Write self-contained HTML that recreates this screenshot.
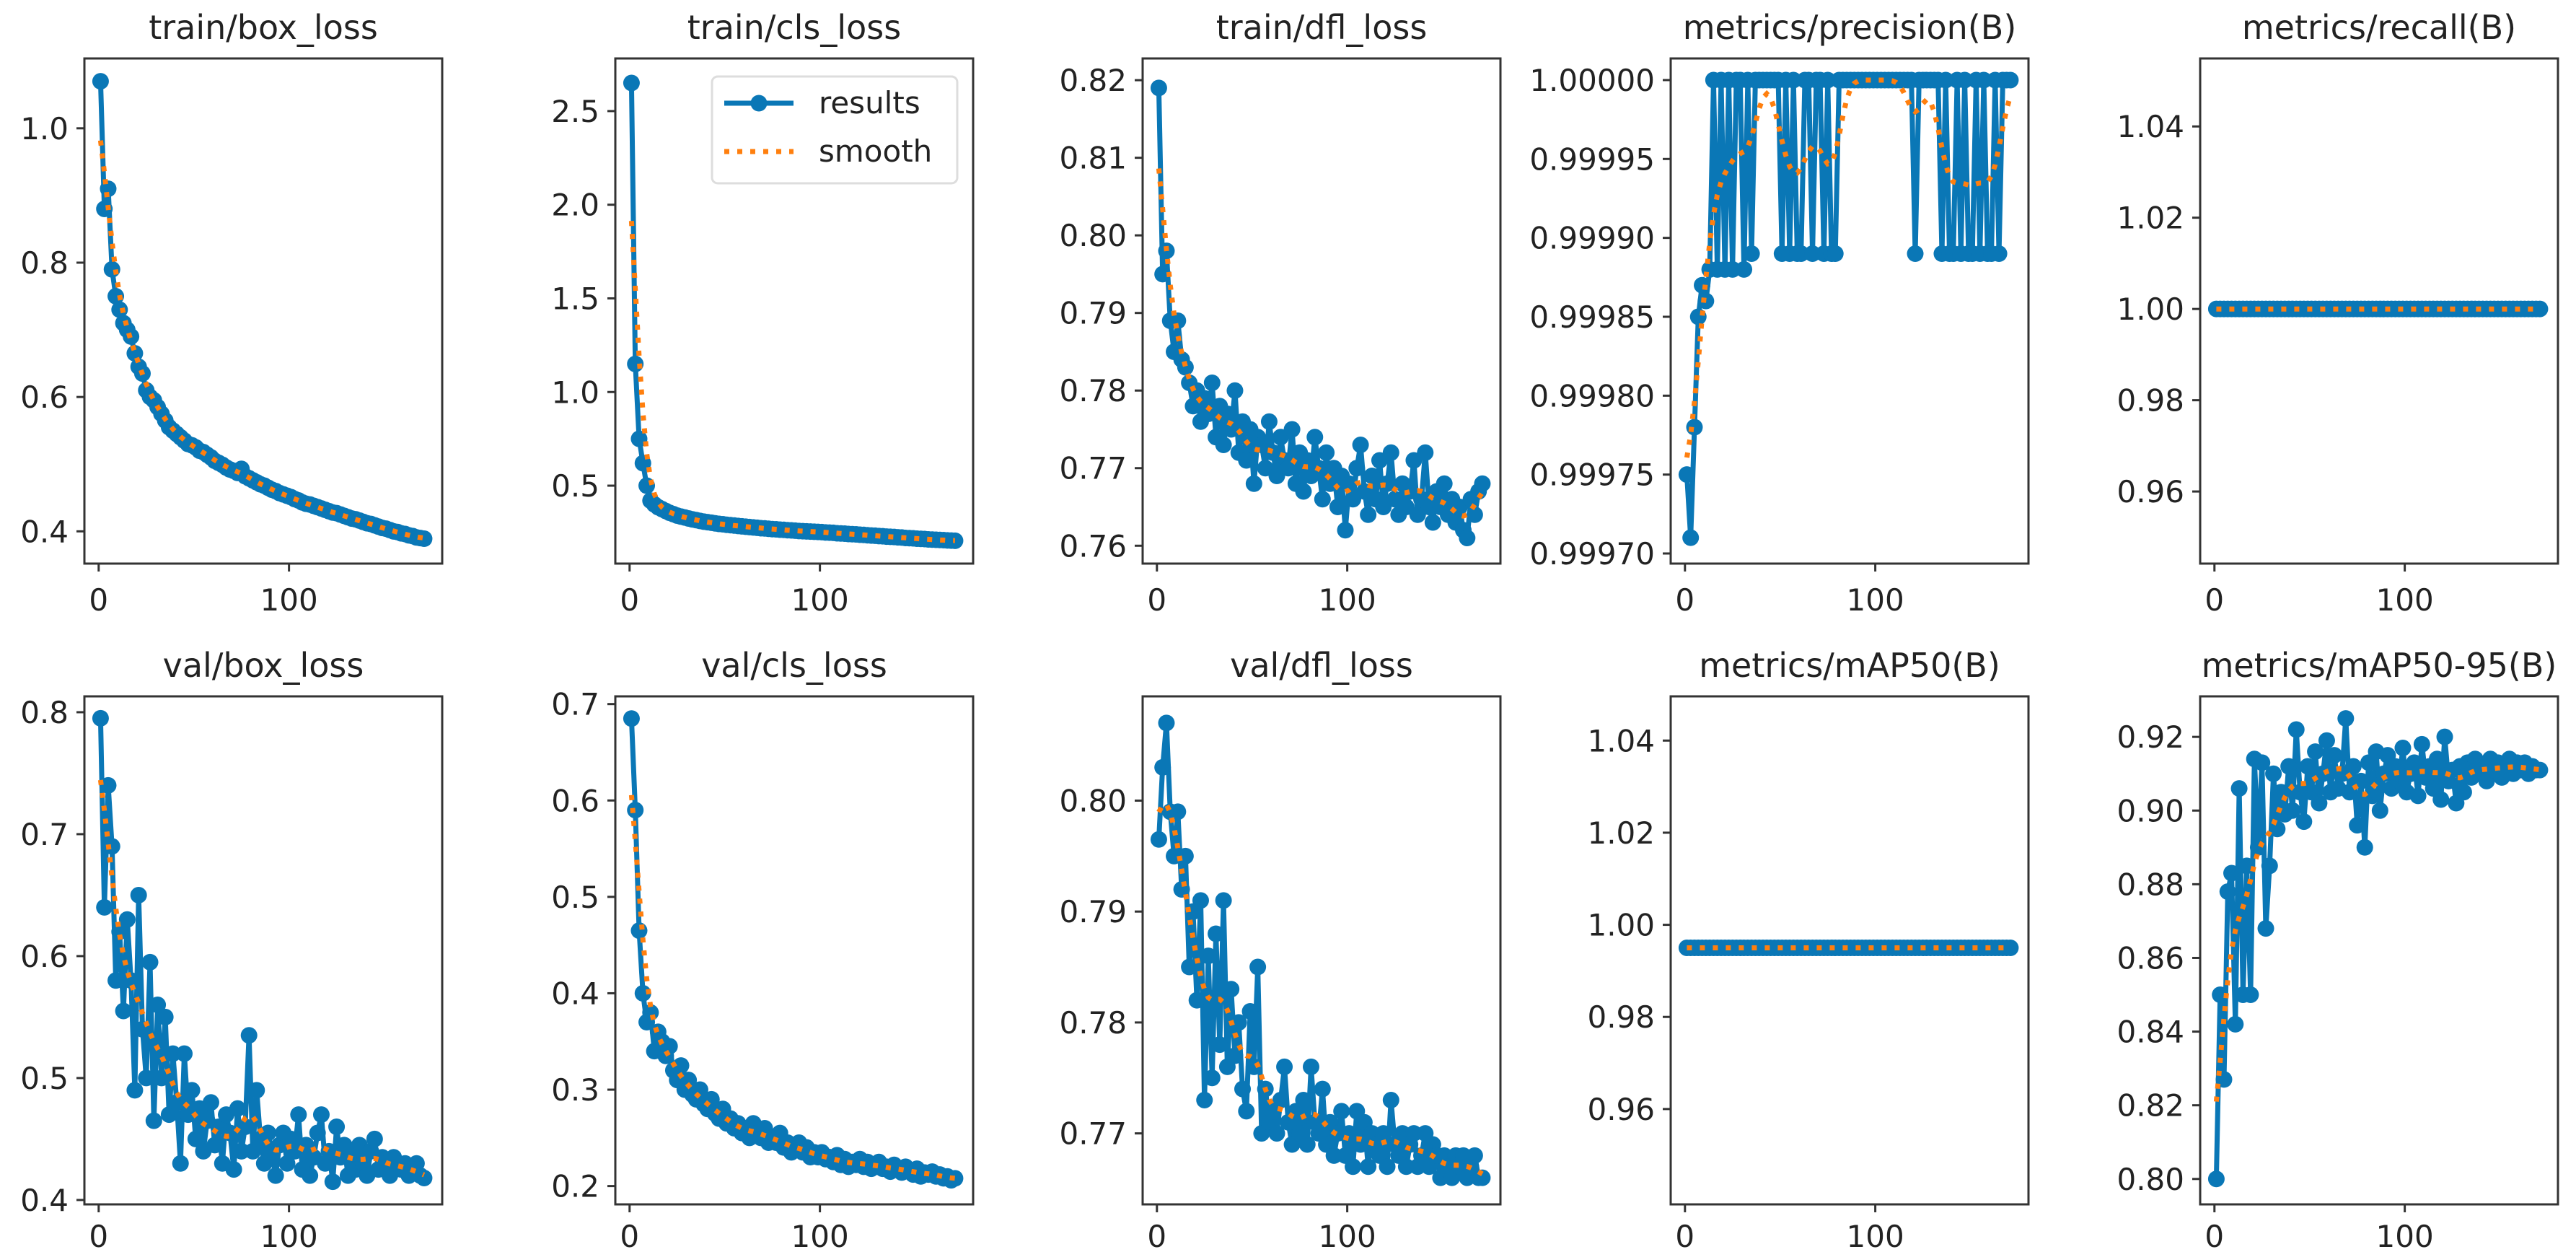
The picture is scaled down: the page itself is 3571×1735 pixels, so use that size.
<!DOCTYPE html>
<html><head><meta charset="utf-8">
<style>
html,body{margin:0;padding:0;background:#fff;}
svg{display:block;font-family:"DejaVu Sans","Liberation Sans",sans-serif;}
</style></head>
<body>
<svg id="fig" width="3571" height="1735" viewBox="0 0 3571 1735" xmlns="http://www.w3.org/2000/svg"></svg>
<script>
const trainBox=[1.07,0.88,0.91,0.79,0.75,0.73,0.71,0.70,0.69,0.665,0.645,0.635,0.61,0.60,0.595,0.585,0.575,0.565,0.555,0.55,0.545,0.54,0.535,0.53,0.528,0.525,0.52,0.518,0.514,0.51,0.505,0.502,0.499,0.495,0.492,0.49,0.487,0.493,0.482,0.479,0.476,0.473,0.47,0.468,0.465,0.462,0.46,0.457,0.455,0.453,0.451,0.448,0.446,0.443,0.441,0.44,0.438,0.436,0.434,0.432,0.43,0.428,0.427,0.425,0.423,0.421,0.419,0.418,0.416,0.414,0.412,0.411,0.409,0.407,0.405,0.404,0.402,0.40,0.399,0.397,0.396,0.394,0.393,0.391,0.39,0.389];
const trainCls=[2.65,1.15,0.75,0.62,0.50,0.42,0.40,0.385,0.375,0.365,0.355,0.348,0.34,0.335,0.33,0.325,0.32,0.316,0.312,0.308,0.305,0.302,0.299,0.296,0.294,0.291,0.289,0.287,0.285,0.283,0.281,0.279,0.277,0.275,0.273,0.272,0.27,0.268,0.267,0.265,0.264,0.262,0.261,0.26,0.258,0.257,0.256,0.255,0.254,0.253,0.252,0.25,0.249,0.248,0.246,0.245,0.244,0.242,0.241,0.24,0.238,0.237,0.235,0.234,0.233,0.231,0.23,0.228,0.227,0.226,0.224,0.223,0.221,0.22,0.219,0.217,0.216,0.215,0.213,0.212,0.211,0.21,0.209,0.208,0.207,0.206];
const trainDfl=[0.819,0.795,0.798,0.789,0.785,0.789,0.784,0.783,0.781,0.778,0.780,0.776,0.779,0.777,0.781,0.774,0.778,0.773,0.777,0.775,0.780,0.772,0.776,0.771,0.775,0.768,0.774,0.773,0.770,0.776,0.772,0.769,0.774,0.771,0.770,0.775,0.768,0.772,0.767,0.771,0.769,0.774,0.770,0.766,0.772,0.768,0.770,0.765,0.769,0.762,0.768,0.766,0.770,0.773,0.767,0.764,0.769,0.766,0.771,0.765,0.768,0.772,0.766,0.764,0.768,0.765,0.767,0.771,0.764,0.766,0.772,0.765,0.763,0.767,0.765,0.768,0.764,0.766,0.763,0.765,0.762,0.761,0.766,0.764,0.767,0.768];
const precision=[0.99975,0.99971,0.99978,0.99985,0.99987,0.99986,0.99988,1.0,0.99988,1.0,0.99988,1.0,0.99988,1.0,1.0,0.99988,1.0,0.99989,1.0,1.0,1.0,1.0,1.0,1.0,1.0,0.99989,1.0,0.99989,1.0,0.99989,0.99989,1.0,1.0,0.99989,1.0,1.0,0.99989,1.0,0.99989,0.99989,1.0,1.0,1.0,1.0,1.0,1.0,1.0,1.0,1.0,1.0,1.0,1.0,1.0,1.0,1.0,1.0,1.0,1.0,1.0,1.0,0.99989,1.0,1.0,1.0,1.0,1.0,1.0,0.99989,1.0,0.99989,0.99989,1.0,0.99989,1.0,0.99989,0.99989,1.0,0.99989,1.0,0.99989,0.99989,1.0,0.99989,1.0,1.0,1.0];
const recall=[1,1,1,1,1,1,1,1,1,1,1,1,1,1,1,1,1,1,1,1,1,1,1,1,1,1,1,1,1,1,1,1,1,1,1,1,1,1,1,1,1,1,1,1,1,1,1,1,1,1,1,1,1,1,1,1,1,1,1,1,1,1,1,1,1,1,1,1,1,1,1,1,1,1,1,1,1,1,1,1,1,1,1,1,1,1];
const valBox=[0.795,0.64,0.74,0.69,0.58,0.62,0.555,0.63,0.58,0.49,0.65,0.54,0.50,0.595,0.465,0.56,0.50,0.55,0.47,0.52,0.48,0.43,0.52,0.47,0.49,0.45,0.475,0.44,0.465,0.48,0.445,0.46,0.43,0.47,0.455,0.425,0.475,0.44,0.46,0.535,0.44,0.49,0.45,0.43,0.455,0.44,0.42,0.445,0.455,0.43,0.45,0.44,0.47,0.425,0.445,0.42,0.435,0.455,0.47,0.43,0.44,0.415,0.46,0.435,0.445,0.42,0.44,0.425,0.445,0.43,0.42,0.44,0.45,0.425,0.435,0.43,0.42,0.435,0.43,0.425,0.43,0.42,0.425,0.43,0.42,0.418];
const valCls=[0.685,0.59,0.465,0.40,0.37,0.38,0.34,0.36,0.35,0.335,0.345,0.32,0.31,0.325,0.30,0.31,0.295,0.29,0.30,0.285,0.28,0.29,0.275,0.27,0.28,0.265,0.27,0.26,0.265,0.255,0.26,0.25,0.265,0.255,0.25,0.26,0.245,0.25,0.245,0.255,0.24,0.245,0.235,0.24,0.245,0.235,0.24,0.23,0.235,0.23,0.235,0.228,0.23,0.225,0.232,0.222,0.228,0.22,0.225,0.222,0.228,0.22,0.225,0.218,0.222,0.225,0.218,0.22,0.215,0.222,0.218,0.214,0.22,0.215,0.212,0.218,0.21,0.214,0.212,0.215,0.21,0.212,0.208,0.21,0.206,0.208];
const valDfl=[0.7965,0.803,0.807,0.799,0.795,0.799,0.792,0.795,0.785,0.790,0.782,0.791,0.773,0.786,0.775,0.788,0.778,0.791,0.776,0.783,0.777,0.780,0.774,0.772,0.781,0.776,0.785,0.770,0.774,0.771,0.772,0.770,0.773,0.776,0.771,0.769,0.772,0.770,0.773,0.769,0.776,0.771,0.770,0.774,0.769,0.771,0.768,0.770,0.772,0.768,0.770,0.767,0.772,0.769,0.771,0.767,0.770,0.769,0.768,0.770,0.767,0.773,0.769,0.768,0.770,0.767,0.769,0.770,0.767,0.768,0.770,0.767,0.769,0.768,0.766,0.768,0.767,0.766,0.768,0.767,0.768,0.766,0.767,0.768,0.766,0.766];
const map50=[0.995,0.995,0.995,0.995,0.995,0.995,0.995,0.995,0.995,0.995,0.995,0.995,0.995,0.995,0.995,0.995,0.995,0.995,0.995,0.995,0.995,0.995,0.995,0.995,0.995,0.995,0.995,0.995,0.995,0.995,0.995,0.995,0.995,0.995,0.995,0.995,0.995,0.995,0.995,0.995,0.995,0.995,0.995,0.995,0.995,0.995,0.995,0.995,0.995,0.995,0.995,0.995,0.995,0.995,0.995,0.995,0.995,0.995,0.995,0.995,0.995,0.995,0.995,0.995,0.995,0.995,0.995,0.995,0.995,0.995,0.995,0.995,0.995,0.995,0.995,0.995,0.995,0.995,0.995,0.995,0.995,0.995,0.995,0.995,0.995,0.995];
const map5095=[0.80,0.85,0.827,0.878,0.883,0.842,0.906,0.85,0.885,0.85,0.914,0.89,0.913,0.868,0.885,0.91,0.895,0.905,0.899,0.912,0.90,0.922,0.905,0.897,0.912,0.905,0.916,0.902,0.91,0.919,0.905,0.915,0.906,0.91,0.925,0.905,0.912,0.896,0.908,0.89,0.913,0.904,0.916,0.9,0.91,0.915,0.906,0.912,0.908,0.917,0.905,0.91,0.913,0.904,0.918,0.909,0.912,0.906,0.914,0.903,0.92,0.908,0.911,0.902,0.912,0.905,0.913,0.909,0.914,0.91,0.912,0.908,0.914,0.911,0.913,0.909,0.912,0.914,0.91,0.913,0.911,0.913,0.91,0.912,0.911,0.911];

const titles=["train/box_loss","train/cls_loss","train/dfl_loss","metrics/precision(B)","metrics/recall(B)","val/box_loss","val/cls_loss","val/dfl_loss","metrics/mAP50(B)","metrics/mAP50-95(B)"];
const yTicks=[[0.4,0.6,0.8,1.0],[0.5,1.0,1.5,2.0,2.5],[0.76,0.77,0.78,0.79,0.80,0.81,0.82],[0.9997,0.99975,0.9998,0.99985,0.9999,0.99995,1.0],[0.96,0.98,1.00,1.02,1.04],[0.4,0.5,0.6,0.7,0.8],[0.2,0.3,0.4,0.5,0.6,0.7],[0.77,0.78,0.79,0.80],[0.96,0.98,1.00,1.02,1.04],[0.80,0.82,0.84,0.86,0.88,0.90,0.92]];
const yDec=[1,1,2,5,2,1,1,2,2,2];
const yLo=[0.352,0.084,0.7577,0.9996936,0.9442,0.3964,0.181,0.7636,0.9393,0.7931];
const yHi=[1.104,2.781,0.8228,1.0000137,1.0549,0.813,0.708,0.8094,1.0496,0.931];
const xTicks=[0,100];
const series=[trainBox,trainCls,trainDfl,precision,recall,valBox,valCls,valDfl,map50,map5095];

const NS="http://www.w3.org/2000/svg";
const svg=document.getElementById('fig');
const lefts=[117,853,1584,2316,3050];
const W=496, tops=[81,965], H=[700,704];
const XMIN=-7.5, XMAX=180.5;
const BLUE="#0a77b6", ORANGE="#ff7f0e";
function mk(tag,attrs,parent){const e=document.createElementNS(NS,tag);for(const k in attrs)e.setAttribute(k,attrs[k]);(parent||svg).appendChild(e);return e;}
function smooth(a){const s=2.2,r=7,out=[];for(let i=0;i<a.length;i++){let sw=0,sv=0;for(let k=-r;k<=r;k++){let j=Math.min(a.length-1,Math.max(0,i+k));const w=Math.exp(-k*k/(2*s*s));sw+=w;sv+=w*a[j];}out.push(sv/sw);}return out;}

for(let p=0;p<10;p++){
  const L=lefts[p%5], row=p<5?0:1, T=tops[row], h=H[row];
  const xs=v=>L+(v-XMIN)/(XMAX-XMIN)*W;
  const ys=v=>T+h-(v-yLo[p])/(yHi[p]-yLo[p])*h;
  const g=mk('g',{});
  
  
  const t=mk('text',{x:L+W/2,y:row?938:54,'font-size':46,'text-anchor':'middle',fill:'#222'},g);
  t.textContent=titles[p];
  
  
  const cp='clip'+p;
  const cl=mk('clipPath',{id:cp},g);mk('rect',{x:L,y:T,width:W,height:h},cl);
  const data=series[p];
  const ep=data.map((_,i)=>2*i+1);
  const pts=data.map((v,i)=>xs(ep[i]).toFixed(1)+','+ys(v).toFixed(1)).join(' ');
  const dg=mk('g',{'clip-path':'url(#'+cp+')'},g);
  const pl=mk('polyline',{points:pts,fill:'none',stroke:BLUE,'stroke-width':7,'stroke-linejoin':'round'},dg);
  
  
  data.forEach((v,i)=>{
    const c=mk('circle',{cx:xs(ep[i]),cy:ys(v),r:11.5,fill:BLUE},dg);
    
    
  });
  const sm=smooth(data);
  const sp=sm.map((v,i)=>xs(ep[i]).toFixed(1)+','+ys(v).toFixed(1)).join(' ');
  const sl=mk('polyline',{points:sp,fill:'none',stroke:ORANGE,'stroke-width':7,'stroke-dasharray':'7,11','stroke-linecap':'butt'},dg);
  
  
  const fr=mk('rect',{x:L,y:T,width:W,height:h,fill:'none',stroke:'#333','stroke-width':3},g);
  
  
  yTicks[p].forEach(v=>{
    const y=ys(v);
    mk('line',{x1:L-11,x2:L,y1:y,y2:y,stroke:'#333','stroke-width':3},g);
    const tl=mk('text',{x:L-22,y:y+15,'font-size':42,'text-anchor':'end',fill:'#222'},g);
    tl.textContent=v.toFixed(yDec[p]);
    
    
  });
  xTicks.forEach(v=>{
    const x=xs(v);
    mk('line',{x1:x,x2:x,y1:T+h,y2:T+h+11,stroke:'#333','stroke-width':3},g);
    const tl=mk('text',{x:x,y:row?1728:846,'font-size':42,'text-anchor':'middle',fill:'#222'},g);
    tl.textContent=String(v);
    
    
  });
}
const lg=mk('g',{});


mk('rect',{x:987,y:106,width:340,height:148,rx:8,fill:'#fff',stroke:'#ddd','stroke-width':3},lg);
mk('line',{x1:1004,x2:1100,y1:143,y2:143,stroke:BLUE,'stroke-width':7},lg);
mk('circle',{cx:1052,cy:143,r:11.5,fill:BLUE},lg);
mk('line',{x1:1004,x2:1100,y1:210,y2:210,stroke:ORANGE,'stroke-width':7,'stroke-dasharray':'7,11'},lg);
const l1=mk('text',{x:1135,y:157,'font-size':42,fill:'#222'},lg);l1.textContent='results';


const l2=mk('text',{x:1135,y:224,'font-size':42,fill:'#222'},lg);l2.textContent='smooth';


</script>
</body></html>
